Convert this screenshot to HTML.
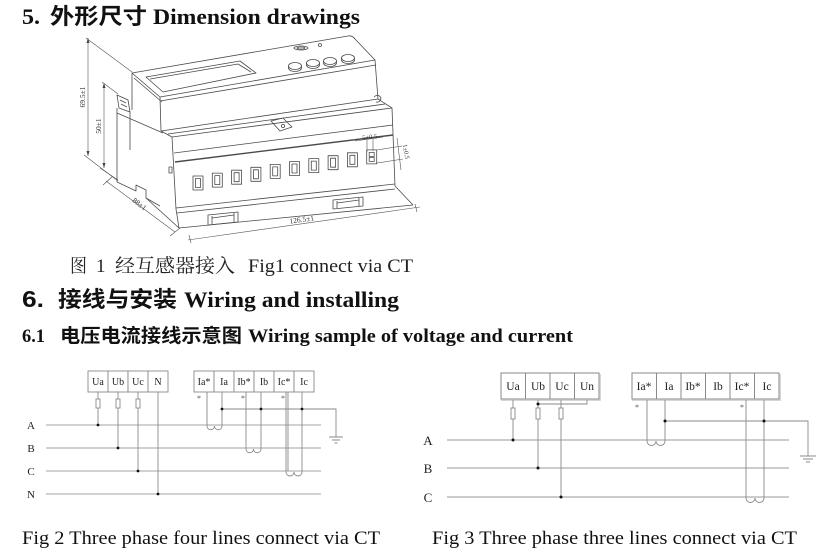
<!DOCTYPE html>
<html><head><meta charset="utf-8"><style>
html,body{margin:0;padding:0;background:#fff;}
svg{display:block;}
.s{font-family:"Liberation Serif","Noto Serif CJK SC",serif;}
.h{font-family:"Liberation Serif","Noto Sans CJK SC",sans-serif;font-weight:bold;}
.hc{font-family:"Noto Sans CJK SC","WenQuanYi Zen Hei",sans-serif;font-weight:bold;}
.sc{font-family:"Noto Serif CJK SC","Noto Sans CJK SC",serif;}
.a{font-family:"Liberation Sans",sans-serif;font-weight:bold;}
</style></head><body>
<svg width="827" height="557" viewBox="0 0 827 557" xmlns="http://www.w3.org/2000/svg">
<rect width="827" height="557" fill="#fff"/>

<!-- Headings -->
<text class="h" x="22" y="24" font-size="22" fill="#111" textLength="18" lengthAdjust="spacingAndGlyphs">5.</text>
<text class="hc" x="50" y="24" font-size="22" fill="#111" textLength="97" lengthAdjust="spacingAndGlyphs">外形尺寸</text>
<text class="h" x="153" y="24" font-size="22" fill="#111" textLength="207" lengthAdjust="spacingAndGlyphs">Dimension drawings</text>

<text class="sc" x="70" y="272" font-size="19" fill="#222" textLength="17" lengthAdjust="spacingAndGlyphs">图</text>
<text class="s" x="96" y="272" font-size="19" fill="#222">1</text>
<text class="sc" x="115" y="272" font-size="19" fill="#222" textLength="120" lengthAdjust="spacingAndGlyphs">经互感器接入</text>
<text class="s" x="248" y="272" font-size="19" fill="#222" textLength="165" lengthAdjust="spacingAndGlyphs">Fig1 connect via CT</text>

<text class="a" x="22" y="307" font-size="23" fill="#111" textLength="22" lengthAdjust="spacingAndGlyphs">6.</text>
<text class="hc" x="58" y="307" font-size="22" fill="#111" textLength="119" lengthAdjust="spacingAndGlyphs">接线与安装</text>
<text class="h" x="184" y="307" font-size="22" fill="#111" textLength="215" lengthAdjust="spacingAndGlyphs">Wiring and installing</text>

<text class="h" x="22" y="342" font-size="19" fill="#111" textLength="23" lengthAdjust="spacingAndGlyphs">6.1</text>
<text class="hc" x="60" y="342" font-size="19" fill="#111" textLength="182" lengthAdjust="spacingAndGlyphs">电压电流接线示意图</text>
<text class="h" x="248" y="342" font-size="19" fill="#111" textLength="325" lengthAdjust="spacingAndGlyphs">Wiring sample of voltage and current</text>

<!-- Device drawing -->
<g stroke="#4a4a4a" stroke-width="0.8" fill="none" stroke-linejoin="round">
  <!-- top box -->
  <path d="M132,73 L348,36 Q352,35 355,39 L375,60 L160,97 Z"/>
  <path d="M160,101 L376,65"/>
  <path d="M160,97 L161,131"/>
  <path d="M375,60 L378,99"/>
  <path d="M132,73 L132,110"/>
  <path d="M134,78 L162,102"/>
  <!-- display -->
  <path d="M146,77 L240,61 L256,73 L163,92 Z"/>
  <path d="M150,79 L238,64 L251,72"/>
  <!-- buttons -->
  <ellipse cx="295" cy="66" rx="6.5" ry="3.5"/><path d="M288.5,66 v2 a6.5,3.5 0 0 0 13,0 v-2"/>
  <ellipse cx="313" cy="63" rx="6.5" ry="3.5"/><path d="M306.5,63 v2 a6.5,3.5 0 0 0 13,0 v-2"/>
  <ellipse cx="330" cy="61" rx="6.5" ry="3.5"/><path d="M323.5,61 v2 a6.5,3.5 0 0 0 13,0 v-2"/>
  <ellipse cx="348" cy="58" rx="6.5" ry="3.5"/><path d="M341.5,58 v2 a6.5,3.5 0 0 0 13,0 v-2"/>
  <ellipse cx="301" cy="48" rx="7" ry="2"/><ellipse cx="301" cy="48" rx="4" ry="1"/>
  <circle cx="320" cy="45" r="1.5"/>
  <!-- seal tab -->
  <path d="M271,121 L283,118 L292,127 L280,131 Z"/>
  <circle cx="283" cy="126" r="1.6"/>
  <!-- right clip -->
  <path d="M374,97 Q378,93 381,98 Q380,103 376,102"/>
  <!-- lower body shoulder -->
  <path d="M161,131 L378,99"/>
  <path d="M161,131 L172,137 L392,108 L378,99"/>
  <path d="M168,134 L385,104"/>
  <path d="M174,153 L393,125"/>
  <path d="M175,162 L393,135" stroke-width="1.4"/>
  <path d="M172,137 L176,209 L179,228"/>
  <path d="M392,108 L395,186 L413,205"/>
  <path d="M176,208 L395,184"/>
  <path d="M177,213 L395,189"/>
  <path d="M179,228 L413,205"/>
  <rect x="169" y="167" width="3" height="6"/>
  <!-- left side -->
  <path d="M117,95 L128,100 L130,112 L119,108 Z"/>
  <path d="M120,100 L126,103 M121,104 L127,107"/>
  <path d="M117,108 L117,182"/>
  <path d="M117,113 L163,133"/>
  <path d="M130,112 L130,150"/>
  <path d="M117,182 L136,191 L136,185 L146,190 L146,198 L179,228"/>
  <path d="M146,198 L160,206"/>
  <!-- terminals -->
  <g>
    <rect x="193" y="176" width="10" height="14"/><rect x="195.5" y="178.5" width="5" height="9"/>
    <rect x="212.3" y="173.1" width="10" height="14"/><rect x="214.8" y="175.6" width="5" height="9"/>
    <rect x="231.6" y="170.2" width="10" height="14"/><rect x="234.1" y="172.7" width="5" height="9"/>
    <rect x="250.9" y="167.3" width="10" height="14"/><rect x="253.4" y="169.8" width="5" height="9"/>
    <rect x="270.2" y="164.4" width="10" height="14"/><rect x="272.7" y="166.9" width="5" height="9"/>
    <rect x="289.5" y="161.5" width="10" height="14"/><rect x="292" y="164" width="5" height="9"/>
    <rect x="308.8" y="158.6" width="10" height="14"/><rect x="311.3" y="161.1" width="5" height="9"/>
    <rect x="328.1" y="155.7" width="10" height="14"/><rect x="330.6" y="158.2" width="5" height="9"/>
    <rect x="347.4" y="152.8" width="10" height="14"/><rect x="349.9" y="155.3" width="5" height="9"/>
    <rect x="366.7" y="149.9" width="10" height="14"/><rect x="369.2" y="152.4" width="5" height="4"/><rect x="369.2" y="157.4" width="5" height="4"/>
  </g>
  <!-- DIN clips -->
  <path d="M208,215 L238,212 L238,222 L208,225 Z"/>
  <path d="M212,216 L212,224 M234,213 L234,222 M212,218 L234,215"/>
  <path d="M333,200 L363,197 L363,206 L333,209 Z"/>
  <path d="M337,201 L337,208 M359,198 L359,206 M337,203 L359,200"/>
</g>

<!-- dimensions -->
<g stroke="#555" stroke-width="0.6" fill="none">
  <path d="M88,38 L88,156"/>
  <path d="M86,38 L132,72"/>
  <path d="M84,155 L118,181"/>
  <path d="M104,83 L104,168"/>
  <path d="M102,82 L118,94"/>
  <path d="M100,168 L118,180"/>
  <path d="M106,181 L175,232"/>
  <path d="M103,185 L112,177 M170,236 L180,228"/>
  <path d="M188,240 L420,207"/>
  <path d="M189,235 L191,243 M415,204 L417,212"/>
  <path d="M355,141 L383,137 M367,140 L367,152 M373,139 L373,151"/>
  <path d="M377,150 L402,146 M377,163 L403,159 M397,138 L401,170"/>
</g>
<g fill="#444">
  <path d="M88,38 l-1.5,5 h3 Z M88,156 l-1.5,-5 h3 Z M104,83 l-1.5,5 h3 Z M104,168 l-1.5,-5 h3 Z"/>
</g>
<g class="s" fill="#333" font-size="7.5" text-anchor="middle">
  <text transform="translate(85,97) rotate(-90)">69.5±1</text>
  <text transform="translate(101,126) rotate(-90)">50±1</text>
  <text transform="translate(138,206) rotate(37)">88±1</text>
  <text transform="translate(302,222) rotate(-7.5)">126.5±1</text>
  <text transform="translate(370,139) rotate(-7)" font-size="6.5">5±0.5</text>
  <text transform="translate(404,152) rotate(80)" font-size="6.5">1±0.5</text>
</g>

<!-- Fig 2 -->
<g stroke="#c2c2c2" stroke-width="1.6">
  <line x1="46" y1="425" x2="321" y2="425"/>
  <line x1="46" y1="448" x2="321" y2="448"/>
  <line x1="46" y1="471" x2="321" y2="471"/>
  <line x1="46" y1="494" x2="321" y2="494"/>
</g>
<g stroke="#8a8a8a" stroke-width="0.9" fill="#fff">
  <rect x="88" y="371" width="20" height="21"/><rect x="108" y="371" width="20" height="21"/>
  <rect x="128" y="371" width="20" height="21"/><rect x="148" y="371" width="20" height="21"/>
  <rect x="194" y="371" width="20" height="21"/><rect x="214" y="371" width="20" height="21"/>
  <rect x="234" y="371" width="20" height="21"/><rect x="254" y="371" width="20" height="21"/>
  <rect x="274" y="371" width="20" height="21"/><rect x="294" y="371" width="20" height="21"/>
</g>
<g class="s" font-size="10" fill="#222" text-anchor="middle">
  <text x="98" y="385">Ua</text><text x="118" y="385">Ub</text><text x="138" y="385">Uc</text><text x="158" y="385">N</text>
  <text x="204" y="385">Ia*</text><text x="224" y="385">Ia</text><text x="244" y="385">Ib*</text><text x="264" y="385">Ib</text><text x="284" y="385">Ic*</text><text x="304" y="385">Ic</text>
</g>
<g class="s" font-size="11" fill="#222" text-anchor="middle">
  <text x="31" y="429">A</text><text x="31" y="452">B</text><text x="31" y="475">C</text><text x="31" y="498">N</text>
</g>
<g stroke="#8a8a8a" stroke-width="0.9" fill="none">
  <path d="M98,392 V399 M98,408 V425"/><rect x="96" y="399" width="4" height="9"/>
  <path d="M118,392 V399 M118,408 V448"/><rect x="116" y="399" width="4" height="9"/>
  <path d="M138,392 V399 M138,408 V471"/><rect x="136" y="399" width="4" height="9"/>
  <path d="M158,392 V494"/>
  <path d="M207,392 V426 a3.75,3.75 0 0 0 7.5,0 a3.75,3.75 0 0 0 7.5,0 V392"/>
  <path d="M246,392 V449 a3.75,3.75 0 0 0 7.5,0 a3.75,3.75 0 0 0 7.5,0 V392"/>
  <path d="M286,392 V472 a4,4 0 0 0 8,0 a4,4 0 0 0 8,0 V392"/>
  <path d="M288,392 V471"/>
  <path d="M222,409 H336 V437"/>
  <path d="M329,437 H343 M332,440 H340 M334.5,443 H337.5"/>
</g>
<g fill="#111">
  <circle cx="98" cy="425" r="1.4"/><circle cx="118" cy="448" r="1.4"/><circle cx="138" cy="471" r="1.4"/><circle cx="158" cy="494" r="1.4"/>
  <circle cx="222" cy="409" r="1.4"/><circle cx="261" cy="409" r="1.4"/><circle cx="302" cy="409" r="1.4"/>
</g>
<g class="s" font-size="8" fill="#555" text-anchor="middle">
  <text x="199" y="401">*</text><text x="243" y="401">*</text><text x="283" y="401">*</text>
</g>

<!-- Fig 3 -->
<g stroke="#9a9a9a" stroke-width="1">
  <line x1="447" y1="440" x2="789" y2="440"/>
  <line x1="447" y1="468" x2="789" y2="468"/>
  <line x1="447" y1="497" x2="789" y2="497"/>
</g>
<g stroke="#8a8a8a" stroke-width="1" fill="#fff">
  <rect x="501" y="373" width="24.5" height="26"/><rect x="525.5" y="373" width="24.5" height="26"/>
  <rect x="550" y="373" width="24.5" height="26"/><rect x="574.5" y="373" width="24.5" height="26"/>
  <rect x="632" y="373" width="24.5" height="26"/><rect x="656.5" y="373" width="24.5" height="26"/>
  <rect x="681" y="373" width="24.5" height="26"/><rect x="705.5" y="373" width="24.5" height="26"/>
  <rect x="730" y="373" width="24.5" height="26"/><rect x="754.5" y="373" width="24.5" height="26"/>
</g>
<g stroke="#c8c8c8" stroke-width="1.5" fill="none">
  <path d="M600,374 V400 H501"/>
  <path d="M780,374 V400 H632"/>
</g>
<g class="s" font-size="11.5" fill="#222" text-anchor="middle">
  <text x="513" y="390">Ua</text><text x="538" y="390">Ub</text><text x="562" y="390">Uc</text><text x="587" y="390">Un</text>
  <text x="644" y="390">Ia*</text><text x="669" y="390">Ia</text><text x="693" y="390">Ib*</text><text x="718" y="390">Ib</text><text x="742" y="390">Ic*</text><text x="767" y="390">Ic</text>
</g>
<g class="s" font-size="13" fill="#222" text-anchor="middle">
  <text x="428" y="445">A</text><text x="428" y="473">B</text><text x="428" y="502">C</text>
</g>
<g stroke="#8a8a8a" stroke-width="0.9" fill="none">
  <path d="M513,400 V408 M513,419 V440"/><rect x="511" y="408" width="4" height="11"/>
  <path d="M538,400 V408 M538,419 V468"/><rect x="536" y="408" width="4" height="11"/>
  <path d="M561,400 V408 M561,419 V497"/><rect x="559" y="408" width="4" height="11"/>
  <path d="M538,404 H587 V400"/>
  <path d="M647,400 V441 a4.5,4.5 0 0 0 9,0 a4.5,4.5 0 0 0 9,0 V400"/>
  <path d="M746,400 V498 a4.5,4.5 0 0 0 9,0 a4.5,4.5 0 0 0 9,0 V400"/>
  <path d="M665,421 H808 V456"/>
  <path d="M800,456 H816 M803,459 H813 M806,462 H810"/>
</g>
<g fill="#111">
  <circle cx="513" cy="440" r="1.5"/><circle cx="538" cy="468" r="1.5"/><circle cx="561" cy="497" r="1.5"/>
  <circle cx="538" cy="404" r="1.5"/><circle cx="665" cy="421" r="1.5"/><circle cx="764" cy="421" r="1.5"/>
</g>
<g class="s" font-size="8" fill="#555" text-anchor="middle">
  <text x="637" y="410">*</text><text x="742" y="410">*</text>
</g>

<!-- captions -->
<text class="s" x="22" y="544" font-size="19" fill="#111" textLength="358" lengthAdjust="spacingAndGlyphs">Fig 2 Three phase four lines connect via CT</text>
<text class="s" x="432" y="544" font-size="19" fill="#111" textLength="365" lengthAdjust="spacingAndGlyphs">Fig 3 Three phase three lines connect via CT</text>
</svg>
</body></html>
